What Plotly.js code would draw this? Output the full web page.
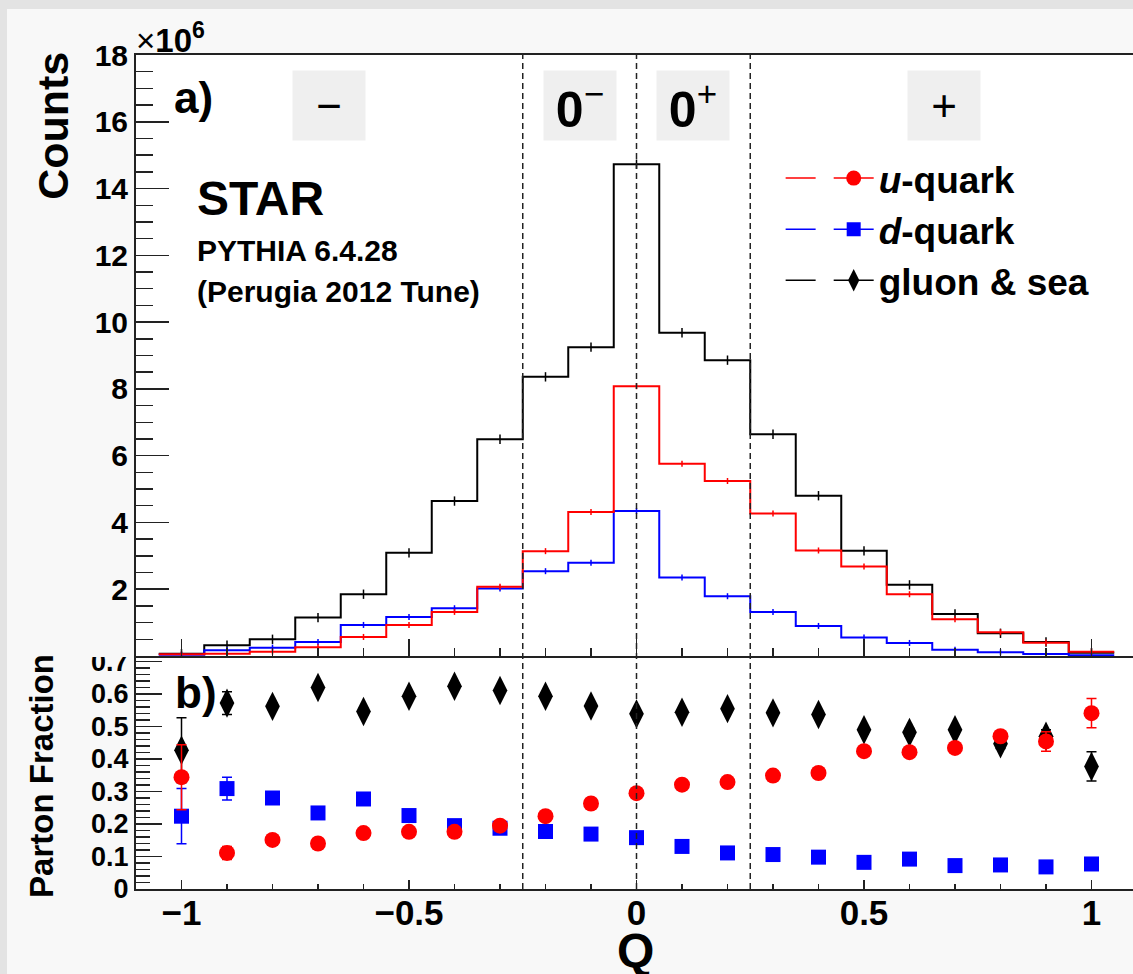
<!DOCTYPE html>
<html>
<head>
<meta charset="utf-8">
<script src="https://cdn.plot.ly/plotly-3.0.1.min.js"></script>
<style>
  html, body { margin:0; padding:0; overflow:hidden; background:#e3e3e3; width:1133px; height:974px; }
  #chart { position:absolute; left:7px; top:9px; width:1143px; height:965px; }
</style>
</head>
<body>
<div id="chart"></div>
<script>
// ---------- data ----------
const qCenters = [-1.0,-0.9,-0.8,-0.7,-0.6,-0.5,-0.4,-0.3,-0.2,-0.1,0.0,0.1,0.2,0.3,0.4,0.5,0.6,0.7,0.8,0.9,1.0];
const binHalfWidth = 0.05;
// counts in units of 10^6
const gluonCounts = [0.07,0.32,0.50,1.15,1.85,3.09,4.64,6.49,8.36,9.25,14.73,9.68,8.86,6.64,4.80,3.15,2.13,1.26,0.68,0.42,0.10];
const uCounts     = [0.05,0.07,0.13,0.26,0.57,0.93,1.32,2.07,3.14,4.31,8.08,5.76,5.24,4.27,3.16,2.68,1.85,1.10,0.71,0.40,0.13];
const dCounts     = [0.035,0.17,0.25,0.42,0.93,1.17,1.43,2.02,2.54,2.79,4.34,2.35,1.79,1.32,0.90,0.55,0.39,0.19,0.11,0.06,0.02];
const histErrG = 0.14, histErrQ = 0.09;
// parton fractions
const gFrac = [0.427,0.572,0.562,0.620,0.546,0.593,0.624,0.611,0.593,0.563,0.539,0.544,0.555,0.542,0.537,0.490,0.482,0.490,0.447,0.470,0.377];
const uFrac = [0.344,0.111,0.151,0.140,0.172,0.176,0.176,0.195,0.224,0.263,0.295,0.321,0.329,0.349,0.357,0.424,0.421,0.434,0.470,0.454,0.541];
const dFrac = [0.224,0.309,0.280,0.234,0.277,0.226,0.195,0.187,0.177,0.169,0.158,0.131,0.111,0.106,0.098,0.082,0.092,0.072,0.074,0.068,0.077];
const gErr = [0.100,0.035,0.010,0.010,0.010,0.010,0.010,0.010,0.010,0.010,0.008,0.008,0.008,0.010,0.010,0.012,0.012,0.012,0.015,0.020,0.045];
const uErr = [0.100,0.020,0.010,0.010,0.010,0.008,0.008,0.008,0.008,0.008,0.008,0.008,0.008,0.010,0.010,0.012,0.012,0.012,0.015,0.030,0.045];
const dErr = [0.085,0.035,0.012,0.012,0.012,0.008,0.008,0.008,0.008,0.006,0.006,0.006,0.006,0.006,0.006,0.006,0.006,0.008,0.010,0.010,0.012];
const seriesNames = ['<i>u</i>-quark','<i>d</i>-quark','gluon &amp; sea'];
const regionLabels = ['\u2212','<b>0</b><sup>\u2212</sup>','<b>0</b><sup>+</sup>','+'];
const regionCenters = [-0.675,-0.125,0.125,0.675];
const regionBounds = [-0.25,0,0.25];
const xTickVals = [-1,-0.5,0,0.5,1];
const xTickText = ['\u22121','\u22120.5','0','0.5','1'];
const yTopTicks = [2,4,6,8,10,12,14,16,18];
const yBotTicks = [0,0.1,0.2,0.3,0.4,0.5,0.6,0.7];

// ---------- helpers ----------
function stepX(c){ const e = c.map(v=>v-binHalfWidth); e.push(c[c.length-1]+binHalfWidth); return e; }
function stepY(v){ const a = v.slice(); a.push(v[v.length-1]); return a; }

const FONT = 'Liberation Sans, Arial, Helvetica, sans-serif';
const RED='#ff0000', BLUE='#0000ff', BLACK='#000000';

const traces = [];
// histograms (top panel): black, blue, red
[[gluonCounts,BLACK,histErrG],[dCounts,BLUE,histErrQ],[uCounts,RED,histErrQ]].forEach(([vals,col,err])=>{
  traces.push({x:stepX(qCenters), y:stepY(vals), type:'scatter', mode:'lines',
    line:{shape:'hv', color:col, width:2}, xaxis:'x', yaxis:'y',
    name:' ', legend:'legend2', showlegend:false, hoverinfo:'skip'});
  traces.push({x:qCenters, y:vals, type:'scatter', mode:'markers',
    marker:{size:1, color:col}, error_y:{type:'constant', value:err, width:0, thickness:1.5, color:col},
    xaxis:'x', yaxis:'y', showlegend:false, hoverinfo:'skip'});
});
// legend2 : short line glyphs (histogram style)
[RED,BLUE,BLACK].forEach(col=>{
  traces.push({x:[null], y:[null], type:'scatter', mode:'lines', line:{color:col, width:1.5},
    xaxis:'x', yaxis:'y', name:' ', legend:'legend2', showlegend:true});
});
// fractions (bottom panel)
traces.push({x:qCenters, y:gFrac, type:'scatter', mode:'markers', name:seriesNames[2],
  marker:{symbol:'diamond-tall', size:21, color:BLACK}, error_y:{type:'data', array:gErr, width:5, thickness:1.5, color:BLACK},
  xaxis:'x2', yaxis:'y2', showlegend:false});
traces.push({x:qCenters, y:dFrac, type:'scatter', mode:'markers', name:seriesNames[1],
  marker:{symbol:'square', size:15, color:BLUE}, error_y:{type:'data', array:dErr, width:5, thickness:1.5, color:BLUE},
  xaxis:'x2', yaxis:'y2', showlegend:false});
traces.push({x:qCenters, y:uFrac, type:'scatter', mode:'markers', name:seriesNames[0],
  marker:{symbol:'circle', size:16, color:RED}, error_y:{type:'data', array:uErr, width:5, thickness:1.5, color:RED},
  xaxis:'x2', yaxis:'y2', showlegend:false});
// legend : line + marker glyphs
[[seriesNames[0],RED,'circle',15],[seriesNames[1],BLUE,'square',14],[seriesNames[2],BLACK,'diamond-tall',16]].forEach(([n,col,sym,sz])=>{
  traces.push({x:[null], y:[null], type:'scatter', mode:'lines+markers', name:n,
    line:{color:col, width:1.5}, marker:{symbol:sym, size:sz, color:col},
    xaxis:'x', yaxis:'y', legend:'legend', showlegend:true});
});

const axisCommon = {showline:true, linewidth:2, linecolor:'#222', ticks:'inside', tickcolor:'#222',
  tickwidth:1.5, showgrid:false, zeroline:false, fixedrange:true};

const shapes = regionBounds.map(v=>({type:'line', xref:'x', yref:'paper', x0:v, x1:v, y0:0, y1:1,
  line:{color:'#222', width:1.5, dash:'6px,4px'}, layer:'above'}));
// top pad overlaps the upper edge of the lower pad's "0.7" label
shapes.push({type:'rect', xref:'paper', yref:'paper', x0:-0.13, x1:-0.006, y0:0.2782, y1:0.292,
  fillcolor:'#f8f8f8', line:{width:0}, layer:'above'});

const annotations = [];
regionLabels.forEach((t,i)=>{
  annotations.push({x:regionCenters[i], y:16.5, xref:'x', yref:'y', text:t, showarrow:false,
    bgcolor:'#efefef', width:70, height:67, xanchor:'center', yanchor:'middle',
    font:{family:FONT, size: i===0||i===3 ? 44 : 50, color:'#000', weight: i===0||i===3 ? 300 : 'normal'}});
});
const T = (text,x,y,size,opts={}) => annotations.push(Object.assign({text, x, y, xref:'paper', yref:'paper',
  showarrow:false, xanchor:'left', yanchor:'middle', font:{family:FONT, size, color:'#000', weight:'bold'}}, opts));
T('a)', 0.0355, 0.9496, 44);
T('b)', 0.0365, 0.2362, 44);
T('STAR', 0.059, 0.8285, 48);
T('PYTHIA 6.4.28', 0.059, 0.765, 30);
T('(Perugia 2012 Tune)', 0.059, 0.717, 30);
T('<span style="font-weight:normal">\u00d7</span>10<sup>6</sup>', -0.002, 1.020, 33);
T('Counts', -0.083, 0.915, 43, {xanchor:'center', textangle:-90});
T('Parton Fraction', -0.094, 0.1355, 33, {xanchor:'center', textangle:-90});
T('Q', 0.4995, -0.074, 48, {xanchor:'center'});

const layout = {
  width:1143, height:965,
  margin:{l:129, r:13, t:46, b:85},
  paper_bgcolor:'#f8f8f8', plot_bgcolor:'#ffffff',
  font:{family:FONT, color:'#000'},
  showlegend:true,
  xaxis:Object.assign({}, axisCommon, {range:[-1.1,1.1], anchor:'y', domain:[0,1], mirror:true,
    tickmode:'array', tickvals:xTickVals, showticklabels:false, ticklen:17,
    minor:{tickmode:'linear', tick0:0, dtick:0.1, ticklen:8, ticks:'inside', tickcolor:'#222', tickwidth:1.5}}),
  yaxis:Object.assign({}, axisCommon, {range:[0,18], domain:[0.2794,1], anchor:'x',
    tickmode:'array', tickvals:yTopTicks, ticktext:yTopTicks.map(String), ticklen:33,
    tickfont:{family:FONT, size:30, weight:'bold'}, ticklabelstandoff:0,
    minor:{tickmode:'linear', tick0:0, dtick:0.5, ticklen:17, ticks:'inside', tickcolor:'#222', tickwidth:1.5}}),
  xaxis2:Object.assign({}, axisCommon, {range:[-1.1,1.1], anchor:'y2', domain:[0,1],
    tickmode:'array', tickvals:xTickVals, ticktext:xTickText, ticklen:9,
    tickfont:{family:FONT, size:35, weight:'bold'}, ticklabelstandoff:-8,
    minor:{tickmode:'linear', tick0:0, dtick:0.1, ticklen:5, ticks:'inside', tickcolor:'#222', tickwidth:1.5}}),
  yaxis2:Object.assign({}, axisCommon, {range:[0,0.717], domain:[0,0.2794], anchor:'x2',
    tickmode:'array', tickvals:yBotTicks, ticktext:yBotTicks.map(String), ticklen:26,
    tickfont:{family:FONT, size:27, weight:'bold'}, ticklabelstandoff:0,
    minor:{tickmode:'linear', tick0:0, dtick:0.02, ticklen:14, ticks:'inside', tickcolor:'#222', tickwidth:1.5}}),
  legend:{x:0.692, y:0.889, xanchor:'left', yanchor:'top', bgcolor:'rgba(0,0,0,0)', borderwidth:0,
    font:{family:FONT, size:37, weight:'bold', color:'#000'}, itemsizing:'trace', itemwidth:40, tracegroupgap:0},
  legend2:{x:0.644, y:0.889, xanchor:'left', yanchor:'top', bgcolor:'rgba(0,0,0,0)', borderwidth:0,
    font:{family:FONT, size:37, weight:'bold', color:'#000'}, tracegroupgap:0},
  shapes, annotations
};

Plotly.newPlot('chart', traces, layout, {staticPlot:true, displayModeBar:false});
</script>
</body>
</html>
